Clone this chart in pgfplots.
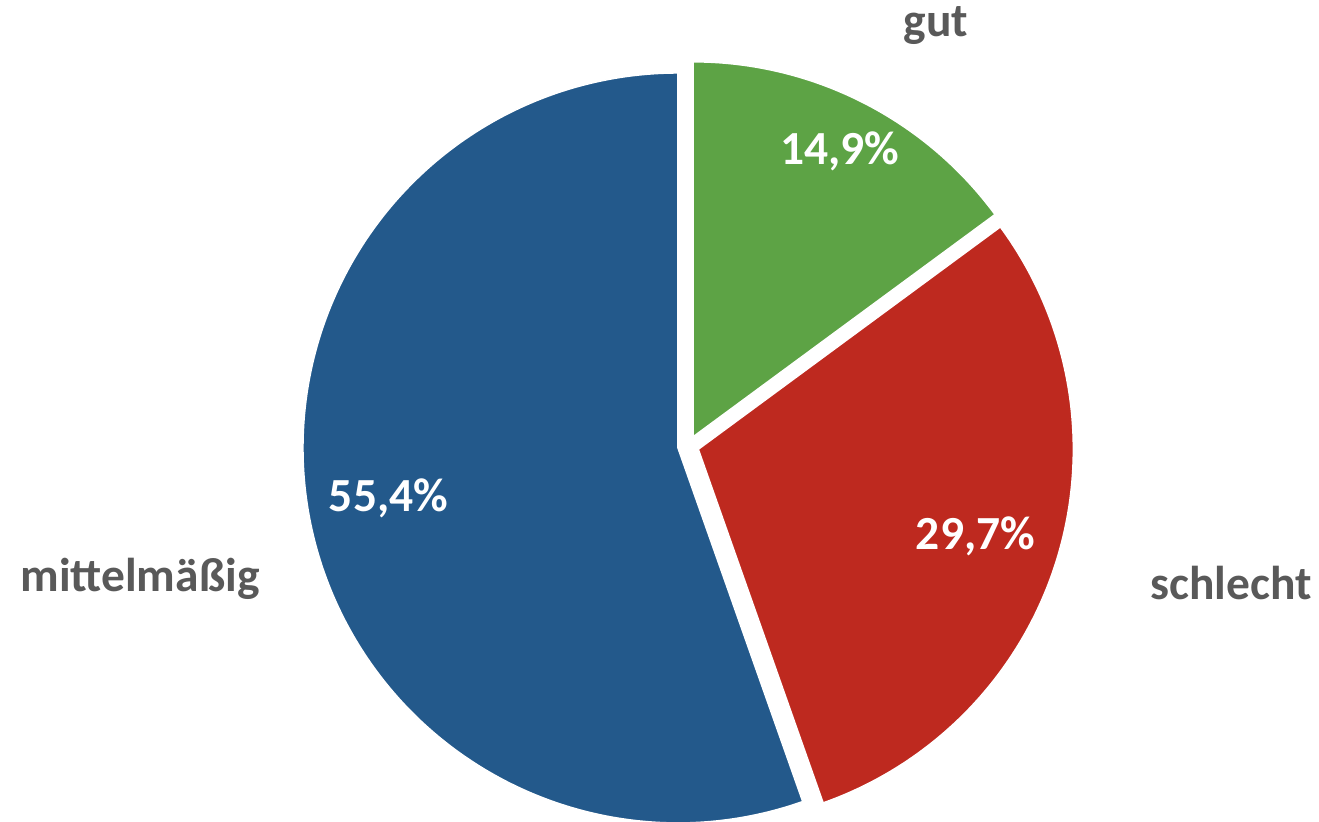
\documentclass[border=0pt]{standalone}
\usepackage{pgfplots}
\pgfplotsset{compat=1.18}
\usepackage{fontspec}
\setmainfont{Carlito}
\definecolor{cblue}{RGB}{35,89,139}
\definecolor{cgreen}{RGB}{93,163,69}
\definecolor{cred}{RGB}{190,41,31}
\definecolor{ctext}{RGB}{89,89,89}
\tikzset{piellbl/.style={anchor=base, inner sep=0pt, font={\bfseries\fontsize{23.75}{28}\selectfont}}}
\begin{document}
\begin{tikzpicture}
% shares in percent
\def\vGut{14.9}
\def\vSchlecht{29.7}
\def\vMittel{55.4}
\pgfmathsetmacro{\aA}{90}
\pgfmathsetmacro{\aB}{90-3.6*\vGut}
\pgfmathsetmacro{\aC}{\aB-3.6*\vSchlecht}
\pgfmathsetmacro{\aD}{\aC-3.6*\vMittel}
\def\cx{688.3}\def\cy{375.8}\def\R{375}\def\ex{10.5}
\pgfmathsetmacro{\gx}{\cx+\ex*cos((\aA+\aB)/2)}
\pgfmathsetmacro{\gy}{\cy+\ex*sin((\aA+\aB)/2)}
\pgfmathsetmacro{\rx}{\cx+\ex*cos((\aB+\aC)/2)}
\pgfmathsetmacro{\ry}{\cy+\ex*sin((\aB+\aC)/2)}
\pgfmathsetmacro{\bx}{\cx+\ex*cos((\aC+\aD)/2)}
\pgfmathsetmacro{\by}{\cy+\ex*sin((\aC+\aD)/2)}
\begin{axis}[x=0.5pt,y=0.5pt,xmin=0,xmax=1319,ymin=0,ymax=822,
  hide axis, clip mode=individual]
\coordinate (ll) at (rel axis cs:0,0);
\coordinate (ur) at (rel axis cs:1,1);
\addplot[fill=cgreen, draw=white, line width=0.75pt, domain=\aB:\aA, samples=100, variable=\t]
  ({\gx+\R*cos(\t)},{\gy+\R*sin(\t)}) -- (axis cs:\gx,\gy) -- cycle;
\addplot[fill=cred, draw=white, line width=0.75pt, domain=\aC:\aB, samples=150, variable=\t]
  ({\rx+\R*cos(\t)},{\ry+\R*sin(\t)}) -- (axis cs:\rx,\ry) -- cycle;
\addplot[fill=cblue, draw=white, line width=0.75pt, domain=\aD:\aC, samples=250, variable=\t]
  ({\bx+\R*cos(\t)},{\by+\R*sin(\t)}) -- (axis cs:\bx,\by) -- cycle;
\node[piellbl, text=white] at (axis cs:840,657) {14,9\%};
\node[piellbl, text=white] at (axis cs:975.5,272) {29,7\%};
\node[piellbl, text=white] at (axis cs:388.5,310) {55,4\%};
\node[piellbl, text=ctext] at (axis cs:936,785) {gut};
\node[piellbl, text=ctext] at (axis cs:1231,222) {schlecht};
\node[piellbl, text=ctext] at (axis cs:140,230) {mittelmäßig};
\end{axis}
\pgfresetboundingbox
\useasboundingbox (ll) rectangle (ur);
\end{tikzpicture}
\end{document}
